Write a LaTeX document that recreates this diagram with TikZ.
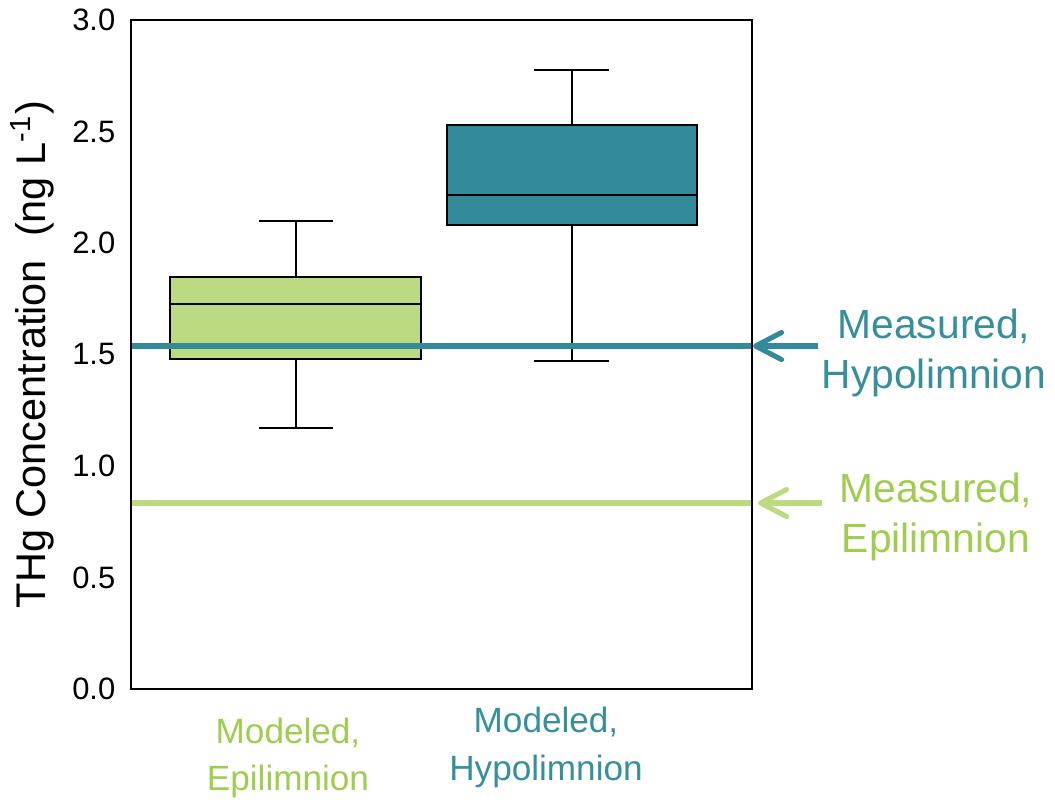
\documentclass[tikz,border=0pt]{standalone}
\usepackage{fontspec}
\setmainfont{Liberation Sans}
\usepackage{xcolor}
\usepackage{tikz}
\usetikzlibrary{arrows.meta}
\definecolor{hypoteal}{HTML}{338A99}
\definecolor{hypotext}{HTML}{35909C}
\definecolor{epigreen}{HTML}{BCDB80}
\definecolor{epitext}{HTML}{A0CC50}

\begin{document}
\begin{tikzpicture}[
  x=1cm, y=2.23cm,
  tick/.style={anchor=east,inner sep=0pt,font=\fontsize{8.8}{10}\selectfont},
  boxbody/.style={draw=black,line width=0.6pt},
  whisk/.style={draw=black,line width=0.5pt},
  measline/.style={line width=1.45pt},
  measarrow/.style={line width=1.45pt,-{Straight Barb[length=2.6mm,width=2.7mm,round]}},
  grouplabel/.style={align=center,inner sep=0pt,font=\fontsize{10}{13.4}\selectfont},
  measlabel/.style={align=center,inner sep=0pt,font=\fontsize{11.6}{14.2}\selectfont}
]
\useasboundingbox (0,-0.5157) rectangle (10.55,3.0897);

% epilimnion box
\draw[whisk] (2.96,1.170) -- (2.96,1.480);
\draw[whisk] (2.96,1.848) -- (2.96,2.099);
\draw[whisk] (2.59,1.170) -- (3.33,1.170);
\draw[whisk] (2.59,2.099) -- (3.33,2.099);
\draw[boxbody,fill=epigreen] (1.70,1.480) rectangle (4.21,1.848);
\draw[boxbody] (1.70,1.726) -- (4.21,1.726);

% hypolimnion box
\draw[whisk] (5.72,1.471) -- (5.72,2.081);
\draw[whisk] (5.72,2.529) -- (5.72,2.776);
\draw[whisk] (5.34,1.471) -- (6.09,1.471);
\draw[whisk] (5.34,2.776) -- (6.09,2.776);
\draw[boxbody,fill=hypoteal] (4.47,2.081) rectangle (6.97,2.529);
\draw[boxbody] (4.47,2.215) -- (6.97,2.215);

% measured values
\draw[measline,hypoteal] (1.31,1.538) -- (7.52,1.538);
\draw[measline,epigreen] (1.31,0.834) -- (7.52,0.834);

% frame
\draw[line width=0.5pt] (1.31,0) rectangle (7.52,3);

\node[tick] (t0) at (1.16,0) {0.0};
\node[tick] (t1) at (1.16,0.5) {0.5};
\node[tick] (t2) at (1.16,1) {1.0};
\node[tick] (t3) at (1.16,1.5) {1.5};
\node[tick] (t4) at (1.16,2) {2.0};
\node[tick] (t5) at (1.16,2.5) {2.5};
\node[tick] (t6) at (1.16,3) {3.0};

\node[rotate=90,inner sep=0pt,font=\fontsize{11.8}{14}\selectfont] (ylab) at (0.32,1.5) {THg Concentration\ \ (ng L\textsuperscript{-1})};

\node[grouplabel,text=epitext] (epimod) at (2.88,-0.307) {Modeled,\\Epilimnion};
\node[grouplabel,text=hypotext] (hypomod) at (5.46,-0.262) {Modeled,\\Hypolimnion};

\node[measlabel,text=hypotext] (hypomeas) at (9.34,1.507) {Measured,\\Hypolimnion};
\node[measlabel,text=epitext] (epimeas) at (9.36,0.771) {Measured,\\Epilimnion};

\coordinate (hypotail) at (8.18,1.538);
\coordinate (hypotip) at (7.53,1.538);
\coordinate (epitail) at (8.22,0.834);
\coordinate (epitip) at (7.58,0.834);
\draw[measarrow,hypoteal] (hypotail) -- (hypotip);
\draw[measarrow,epigreen] (epitail) -- (epitip);
\end{tikzpicture}
\end{document}
